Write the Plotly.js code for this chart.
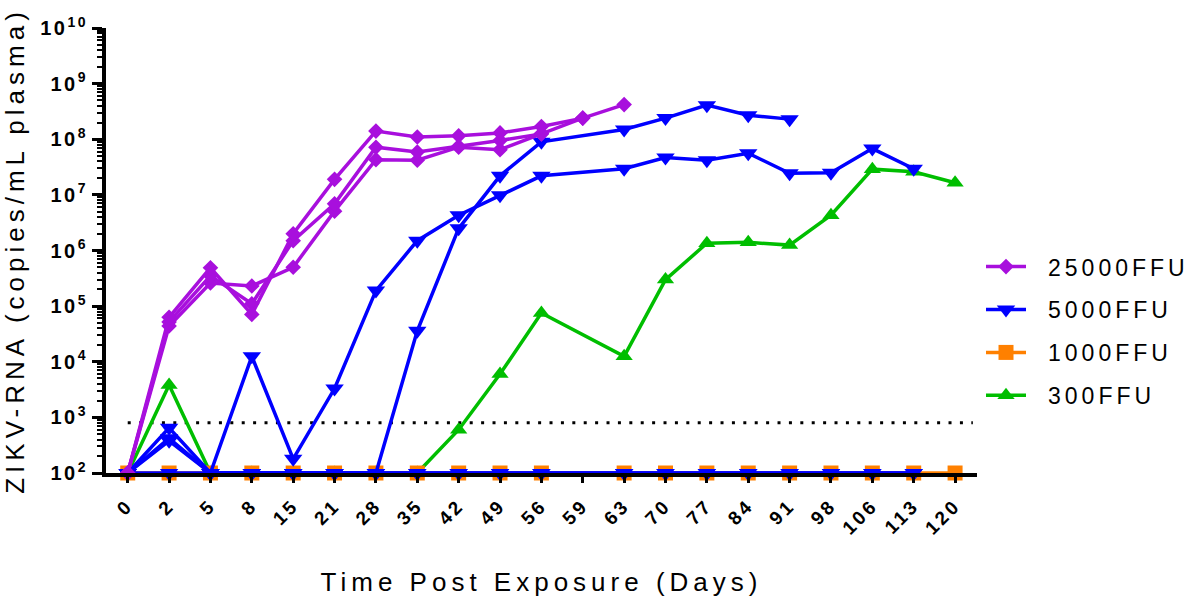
<!DOCTYPE html>
<html>
<head>
<meta charset="utf-8">
<script src="https://cdn.plot.ly/plotly-3.0.1.min.js"></script>
<style>
  html, body { margin: 0; padding: 0; background: #fff; }
  #chart { width: 1195px; height: 602px; }
  .xtitle, .ytitle { letter-spacing: 5px; }
  .xtick text { letter-spacing: 3px; }
  .ytick text { letter-spacing: 2.5px; }
  .legendtext { letter-spacing: 4px; transform: translateX(17px); }
  .legend .scrollbox { clip-path: none !important; }
</style>
</head>
<body>
<div id="chart"></div>
<script>
// Sampling days (categorical x axis)
const days = ['0','2','5','8','15','21','28','35','42','49','56','59','63','70','77','84','91','98','106','113','120'];

// Decades shown on the y axis
const yExponents = [2, 3, 4, 5, 6, 7, 8, 9, 10];

// Limit of detection (copies/mL)
const lod = 800;

// 25000 FFU group, one array per animal
const ffu25000_a = [1e2, 6.3e4, 4.9e5, 7.1e4, 2.0e6, 1.9e7, 1.4e8, 1.1e8, 1.15e8, 1.3e8, 1.7e8, 2.4e8, 4.2e8, null, null, null, null, null, null, null, null];
const ffu25000_b = [1e2, 5.2e4, 3.5e5, 1.1e5, 1.5e6, 6.9e6, 7.2e7, 5.9e7, 7.5e7, 9.5e7, 1.25e8, 2.4e8, null, null, null, null, null, null, null, null, null];
const ffu25000_c = [1e2, 4.4e4, 2.6e5, 2.3e5, 5.0e5, 5.1e6, 4.3e7, 4.2e7, 7.2e7, 6.5e7, 1.25e8, null, null, null, null, null, null, null, null, null, null];

// 5000 FFU group
const ffu5000_a = [1e2, 6.5e2, 1e2, 1.25e4, 1.8e2, 3.3e3, 1.9e5, 1.5e6, 4.3e6, 9.8e6, 2.2e7, null, 2.95e7, 4.7e7, 4.2e7, 5.6e7, 2.45e7, 2.5e7, 6.8e7, 2.95e7, null];
const ffu5000_b = [1e2, 4.2e2, 1e2, 1e2, 1e2, 1e2, 1e2, 3.6e4, 2.5e6, 2.2e7, 9.0e7, null, 1.5e8, 2.4e8, 4.1e8, 2.7e8, 2.3e8, null, null, null, null];
const ffu5000_c = [1e2, 3.8e2, 1e2, 1e2, 1e2, 1e2, 1e2, 1e2, 1e2, 1e2, 1e2, null, 1e2, 1e2, 1e2, 1e2, 1e2, 1e2, 1e2, 1e2, null];
const ffu5000_d = [1e2, 1e2, 1e2, 1e2, 1e2, 1e2, 1e2, 1e2, 1e2, 1e2, 1e2, null, 1e2, 1e2, 1e2, 1e2, 1e2, 1e2, 1e2, 1e2, null];

// 1000 FFU group
const ffu1000_a = [1e2, 1e2, 1e2, 1e2, 1e2, 1e2, 1e2, 1e2, 1e2, 1e2, 1e2, null, 1e2, 1e2, 1e2, 1e2, 1e2, 1e2, 1e2, 1e2, 1e2];

// 300 FFU group
const ffu300_a = [1e2, 3.8e3, 1e2, 1e2, 1e2, 1e2, 1e2, 1e2, 6.0e2, 6.0e3, 7.5e4, null, 1.25e4, 3.0e5, 1.35e6, 1.4e6, 1.25e6, 4.3e6, 2.9e7, 2.6e7, 1.65e7];

const groups = [
  { name: '300FFU',   rank: 4, color: '#00BE00', symbol: 'triangle-up',   size: 15, series: [ffu300_a] },
  { name: '1000FFU',  rank: 3, color: '#FF8000', symbol: 'square',        size: 15, series: [ffu1000_a] },
  { name: '5000FFU',  rank: 2, color: '#0000FF', symbol: 'triangle-down', size: 16, series: [ffu5000_d, ffu5000_c, ffu5000_a, ffu5000_b] },
  { name: '25000FFU', rank: 1, color: '#A80FDD', symbol: 'diamond',       size: 12, series: [ffu25000_c, ffu25000_b, ffu25000_a] }
];

const traces = [];
groups.forEach(g => {
  g.series.forEach((vals, i) => {
    traces.push({
      type: 'scatter',
      mode: 'lines+markers',
      x: days,
      y: vals,
      name: g.name,
      legendgroup: g.name,
      legendrank: g.rank,
      showlegend: i === 0,
      connectgaps: true,
      cliponaxis: false,
      line: { color: g.color, width: 3.5 },
      marker: { color: g.color, symbol: g.symbol, size: g.size, line: { width: 0 } }
    });
  });
});

const minorVals = [];
for (let e = yExponents[0]; e < yExponents[yExponents.length - 1]; e++) {
  for (let k = 2; k <= 9; k++) minorVals.push(k * Math.pow(10, e));
}

const fontFamily = 'Arial, "Liberation Sans", sans-serif';

const layout = {
  width: 1195,
  height: 602,
  margin: { l: 106, r: 218, t: 28, b: 129, autoexpand: false },
  paper_bgcolor: '#fff',
  plot_bgcolor: '#fff',
  font: { family: fontFamily, color: '#000' },
  showlegend: true,
  legend: {
    x: 1.0046, xanchor: 'left',
    y: 0.512, yanchor: 'top',
    font: { size: 23, family: fontFamily, color: '#000' },
    tracegroupgap: 10,
    itemwidth: 40,
    bgcolor: 'rgba(0,0,0,0)'
  },
  xaxis: {
    type: 'category',
    categoryorder: 'array',
    categoryarray: days,
    range: [-0.525, 20.53],
    showgrid: false,
    zeroline: false,
    showline: true,
    linecolor: '#000',
    linewidth: 4,
    ticks: 'outside',
    ticklen: 6,
    tickwidth: 3,
    tickcolor: '#000',
    tickangle: -45,
    ticklabelstandoff: 4,
    tickfont: { size: 19, weight: 'bold', family: fontFamily, color: '#000' },
    title: {
      text: 'Time Post Exposure (Days)',
      font: { size: 26, family: fontFamily, color: '#000' },
      standoff: 36
    }
  },
  yaxis: {
    type: 'log',
    range: [yExponents[0], yExponents[yExponents.length - 1]],
    showgrid: false,
    zeroline: false,
    showline: true,
    linecolor: '#000',
    linewidth: 4,
    tickmode: 'array',
    tickvals: yExponents.map(e => Math.pow(10, e)),
    ticktext: yExponents.map(e => '10<sup>' + e + '</sup>'),
    ticks: 'outside',
    ticklen: 10,
    tickwidth: 3,
    tickcolor: '#000',
    minor: { tickmode: 'array', tickvals: minorVals, ticks: 'outside', ticklen: 5, tickwidth: 2, tickcolor: '#000', showgrid: false },
    tickfont: { size: 20, weight: 'bold', family: fontFamily, color: '#000' },
    title: {
      text: 'ZIKV-RNA (copies/mL plasma)',
      font: { size: 26, family: fontFamily, color: '#000' },
      standoff: 10
    }
  },
  shapes: [{
    type: 'line',
    xref: 'x', yref: 'y',
    x0: 0, x1: 20.43,
    y0: lod, y1: lod,
    line: { color: '#000', width: 3, dash: '3px,8.4px' },
    layer: 'below'
  }]
};

Plotly.newPlot('chart', traces, layout, { displayModeBar: false, staticPlot: true });
</script>
</body>
</html>
